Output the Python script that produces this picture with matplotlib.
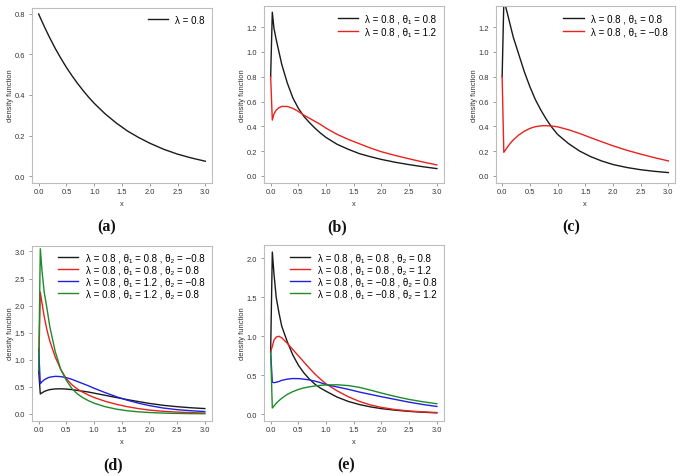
import matplotlib
matplotlib.use('Agg')
import matplotlib.pyplot as plt

# x grid shared by every curve
x = [0, 0.03, 0.06, 0.1, 0.15, 0.2, 0.3, 0.4, 0.5, 0.6, 0.7, 0.8, 0.9, 1.0,
     1.2, 1.4, 1.6, 1.8, 2.0, 2.25, 2.5, 2.75, 3.0]

# (a)
a_black = [0.80, 0.781, 0.763, 0.739, 0.710, 0.682, 0.629, 0.581, 0.536, 0.495, 0.457,
           0.422, 0.389, 0.359, 0.306, 0.261, 0.222, 0.190, 0.162, 0.132, 0.108, 0.089, 0.073]
# (b)
b_black = [0.80, 1.32, 1.19, 1.10, 1.00, 0.90, 0.75, 0.63, 0.545, 0.48, 0.43, 0.385,
           0.345, 0.31, 0.255, 0.215, 0.18, 0.155, 0.133, 0.11, 0.091, 0.074, 0.059]
b_red = [0.80, 0.45, 0.50, 0.53, 0.55, 0.56, 0.56, 0.545, 0.52, 0.49, 0.465, 0.44,
         0.415, 0.385, 0.335, 0.295, 0.26, 0.225, 0.195, 0.165, 0.138, 0.112, 0.089]
# (c)
c_black = [0.80, 1.40, 1.37, 1.30, 1.21, 1.12, 0.98, 0.84, 0.72, 0.615, 0.53, 0.455,
           0.39, 0.335, 0.26, 0.20, 0.155, 0.12, 0.092, 0.068, 0.05, 0.037, 0.027]
c_red = [0.80, 0.19, 0.21, 0.235, 0.265, 0.29, 0.33, 0.36, 0.383, 0.397, 0.404, 0.405,
         0.402, 0.396, 0.372, 0.342, 0.308, 0.275, 0.243, 0.207, 0.176, 0.147, 0.121]
# (d)
d_black = [0.80, 0.37, 0.39, 0.415, 0.435, 0.45, 0.463, 0.465, 0.46, 0.45, 0.435, 0.42,
           0.405, 0.385, 0.345, 0.305, 0.265, 0.23, 0.195, 0.16, 0.135, 0.115, 0.10]
d_red = [0.80, 2.25, 2.05, 1.80, 1.55, 1.35, 1.05, 0.82, 0.65, 0.54, 0.46, 0.40,
         0.35, 0.305, 0.235, 0.18, 0.135, 0.10, 0.072, 0.05, 0.035, 0.025, 0.018]
d_blue = [1.20, 0.56, 0.595, 0.63, 0.66, 0.68, 0.695, 0.69, 0.67, 0.64, 0.60, 0.56,
          0.52, 0.475, 0.395, 0.32, 0.255, 0.20, 0.155, 0.11, 0.08, 0.06, 0.045]
d_green = [0.80, 3.05, 2.65, 2.25, 1.95, 1.62, 1.15, 0.82, 0.62, 0.47, 0.37, 0.30,
           0.245, 0.20, 0.135, 0.09, 0.06, 0.04, 0.027, 0.017, 0.011, 0.007, 0.005]
# (e)
e_black = [0.80, 2.08, 1.80, 1.50, 1.30, 1.13, 0.93, 0.76, 0.63, 0.53, 0.45, 0.385,
           0.335, 0.295, 0.22, 0.165, 0.125, 0.095, 0.072, 0.052, 0.037, 0.026, 0.018]
e_red = [0.80, 0.87, 0.95, 0.99, 1.00, 0.98, 0.91, 0.83, 0.75, 0.67, 0.59, 0.515,
         0.45, 0.39, 0.30, 0.225, 0.165, 0.12, 0.088, 0.06, 0.042, 0.03, 0.022]
e_blue = [0.80, 0.41, 0.405, 0.41, 0.42, 0.435, 0.45, 0.458, 0.457, 0.45, 0.44, 0.425,
          0.405, 0.38, 0.35, 0.32, 0.285, 0.255, 0.225, 0.19, 0.155, 0.125, 0.10]
e_green = [0.80, 0.08, 0.105, 0.14, 0.175, 0.205, 0.255, 0.29, 0.318, 0.338, 0.352, 0.363,
           0.371, 0.376, 0.378, 0.368, 0.345, 0.31, 0.272, 0.228, 0.19, 0.16, 0.135]

labels_a = ['λ = 0.8']
labels_b = ['λ = 0.8 , θ₁ = 0.8', 'λ = 0.8 , θ₁ = 1.2']
labels_c = ['λ = 0.8 , θ₁ = 0.8', 'λ = 0.8 , θ₁ = −0.8']
labels_d = ['λ = 0.8 , θ₁ = 0.8 , θ₂ = −0.8', 'λ = 0.8 , θ₁ = 0.8 , θ₂ = 0.8',
            'λ = 0.8 , θ₁ = 1.2 , θ₂ = −0.8', 'λ = 0.8 , θ₁ = 1.2 , θ₂ = 0.8']
labels_e = ['λ = 0.8 , θ₁ = 0.8 , θ₂ = 0.8', 'λ = 0.8 , θ₁ = 0.8 , θ₂ = 1.2',
            'λ = 0.8 , θ₁ = −0.8 , θ₂ = 0.8', 'λ = 0.8 , θ₁ = −0.8 , θ₂ = 1.2']

colors = ['#1a1a1a', '#e8221e', '#2020e0', '#1f8a2a']
sans = ['Liberation Sans', 'DejaVu Sans']
plt.rcParams['font.family'] = sans

W, H = 680, 477
fig = plt.figure(figsize=(W / 100, H / 100), dpi=100)


def make_axes(l, t, r, b):
    return fig.add_axes([l / W, 1 - b / H, (r - l) / W, (b - t) / H])


def panel(box, curves, labels, ylim, yticks, letter, lx, ly, leg_pad):
    ax = make_axes(*box)
    for i, ys in enumerate(curves):
        ax.plot(x, ys, color=colors[i], lw=1.0, label=labels[i])
    ax.set_xlim(-0.12, 3.12)
    ax.set_ylim(*ylim)
    ax.set_xticks([0, 0.5, 1.0, 1.5, 2.0, 2.5, 3.0])
    ax.set_xticklabels(['0.0', '0.5', '1.0', '1.5', '2.0', '2.5', '3.0'])
    ax.set_yticks(yticks)
    ax.set_yticklabels(['%.1f' % v for v in yticks])
    for s in ax.spines.values():
        s.set_color('#bdbdbd')
        s.set_linewidth(0.8)
    ax.tick_params(axis='both', length=2.2, width=0.7, color='#9a9a9a',
                   labelsize=5.4, labelcolor='#333333')
    ax.tick_params(axis='x', pad=1.6)
    ax.tick_params(axis='y', pad=2.6)
    ax.set_xlabel('x', fontsize=5.4, color='#333333', labelpad=4)
    ax.set_ylabel('density function', fontsize=5.4, color='#333333', labelpad=0.5)
    ax.legend(loc='upper right', frameon=False, fontsize=7.0, handlelength=2.1,
              handletextpad=0.75, labelspacing=leg_pad, borderaxespad=0.45,
              borderpad=0.3)
    fig.text(lx / W, 1 - ly / H, '(%s)' % letter, ha='center', va='center',
             fontsize=11.5, fontweight='bold', family=['Liberation Serif', 'DejaVu Serif'],
             color='#111111')
    return ax


panel((32, 8.5, 212, 183.5), [a_black], labels_a, (-0.032, 0.832),
      [0, 0.2, 0.4, 0.6, 0.8], 'a', 107, 227, 0.3)
panel((264, 7, 443.5, 183.5), [b_black, b_red], labels_b, (-0.053, 1.37),
      [0, 0.2, 0.4, 0.6, 0.8, 1.0, 1.2], 'b', 337, 227, 0.3)
panel((495.5, 7, 675, 183.5), [c_black, c_red], labels_c, (-0.053, 1.37),
      [0, 0.2, 0.4, 0.6, 0.8, 1.0, 1.2], 'c', 571, 227, 0.3)
panel((32, 246.5, 211.5, 421.5), [d_black, d_red, d_blue, d_green], labels_d,
      (-0.12, 3.11), [0, 0.5, 1.0, 1.5, 2.0, 2.5, 3.0], 'd', 113, 465, 0.2)
panel((264, 246, 443.5, 421.5), [e_black, e_red, e_blue, e_green], labels_e,
      (-0.08, 2.17), [0, 0.5, 1.0, 1.5, 2.0], 'e', 346, 465, 0.2)

fig.savefig('out.png', dpi=100)
